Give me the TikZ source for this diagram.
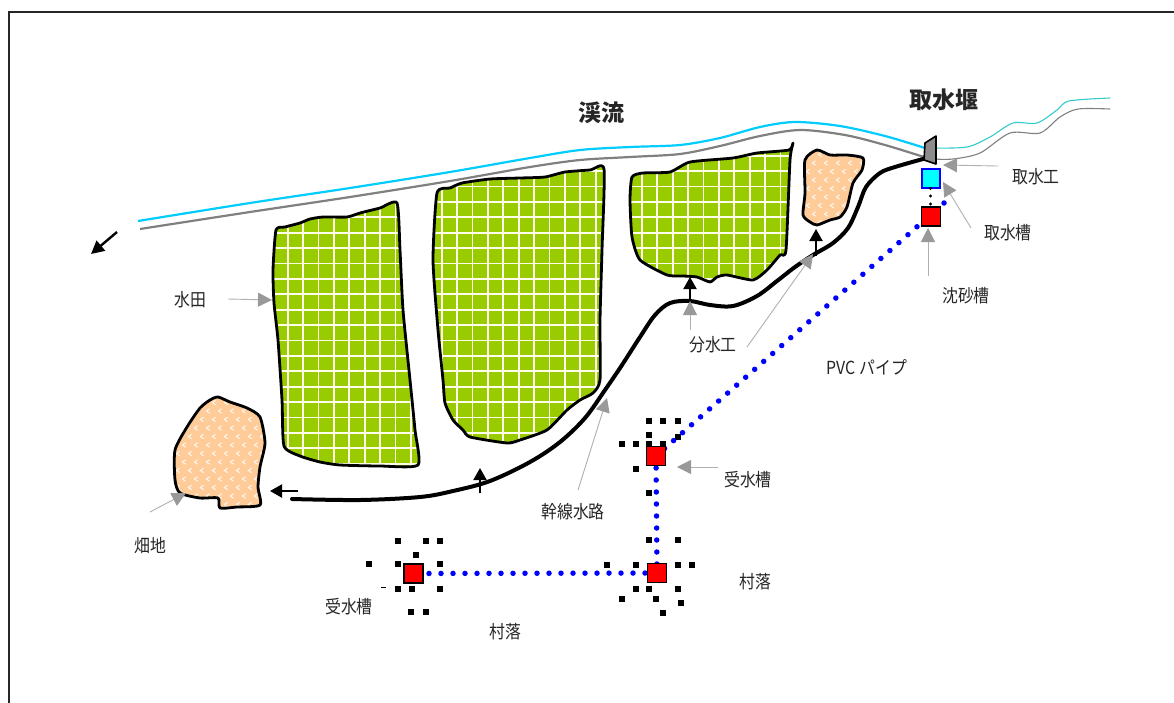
\documentclass[tikz,border=0pt]{standalone}
\usepackage{fontspec}
\newfontfamily\jp{Noto Sans CJK JP}
\usetikzlibrary{arrows.meta}

\definecolor{paddygreen}{HTML}{99CC00}
\definecolor{fieldpeach}{HTML}{FFCC99}
\definecolor{streamcyan}{HTML}{00CCFF}
\definecolor{upcyan}{HTML}{33CCCC}
\definecolor{bankgray}{HTML}{808080}
\definecolor{ptrgray}{HTML}{999999}
\definecolor{ptrline}{HTML}{B0B0B0}
\definecolor{weirgray}{HTML}{8C8C8C}
\definecolor{pipeblue}{HTML}{0000FF}
\definecolor{boxcyan}{HTML}{00FFFF}
\definecolor{tankred}{HTML}{FF0000}

\newcommand{\nar}[1]{\scalebox{0.88}[1]{#1}}

% outlines of the plots
\def\paddyA{plot[smooth cycle,tension=0.35] coordinates{(276,230) (285,227) (300,223) (310,219) (323,217) (347,217) (360,213) (380,208) (397,203) (400,250) (403,310) (410,380) (415,430) (418,465) (380,466) (340,465) (320,462) (300,456) (284,446) (282,400) (278,340) (274,303) (273,270)}}
\def\paddyB{plot[smooth cycle,tension=0.35] coordinates{(437,193) (450,188) (462,183) (490,179) (520,178) (545,177) (565,172) (590,170) (604,169) (602,250) (600,320) (600,380) (593,393) (580,400) (567,410) (547,430) (520,440) (507,443) (470,437) (463,430) (453,420) (445,403) (443,380) (438,330) (433,260)}}
\def\paddyC{plot[smooth cycle,tension=0.35] coordinates{(632,177) (643,173) (670,172) (690,162) (733,158) (757,153) (789,150) (793,143) (790,160) (786,250) (780,255) (767,270) (753,280) (727,275) (717,277) (710,282) (697,277) (683,276) (667,275) (640,260) (632,237) (630,200)}}
\def\fieldA{plot[smooth cycle,tension=0.4] coordinates{(817,150) (830,155) (847,155) (863,158) (862,170) (853,183) (847,207) (840,217) (830,220) (817,225) (810,222) (803,215) (805,193) (805,160)}}
\def\fieldB{plot[smooth cycle,tension=0.4] coordinates{(210,400) (218,397) (230,402) (247,408) (260,417) (265,443) (260,467) (258,487) (260,505) (237,507) (220,508) (218,498) (200,498) (180,493) (175,480) (175,450) (187,427) (200,408)}}

\tikzset{
  outline/.style={draw=black,line width=2.8pt,line join=round},
  gridline/.style={draw=white!92!yellow,line width=1.9pt},
  chev/.style={draw=white,line width=1pt,opacity=0.85},
  canal/.style={draw=black,line width=4pt,line cap=round},
  branch/.style={draw=black,line width=2pt,-{Triangle[length=12pt,width=13pt]}},
  pointer/.style={draw=ptrline,line width=0.9pt,-{Triangle[length=14pt,width=14pt,color=ptrgray,fill=ptrgray]}},
  pipe/.style={draw=pipeblue,line width=5.5pt,line cap=round,dash pattern=on 0pt off 12pt},
  tank/.style={draw=black,line width=1.8pt,fill=tankred,minimum size=19pt,inner sep=0pt},
  intake/.style={draw=blue,line width=1.8pt,fill=boxcyan,minimum size=18.5pt,inner sep=0pt},
  house/.style={fill=black},
  lab/.style={font=\jp\fontsize{18}{20}\selectfont,inner sep=0pt,text=black!85},
  title/.style={font=\jp\bfseries\fontsize{23}{25}\selectfont,inner sep=0pt,text=black!85},
}

\begin{document}
\begin{tikzpicture}[x=1pt,y=-1pt]
\useasboundingbox (0,0) rectangle (1174,702);
\clip (0,0) rectangle (1174,702);
\fill[white] (0,0) rectangle (1174,702);

% frame
\draw[line width=2.2pt,black!85] (9,730) -- (9,12) -- (1200,12);

% stream banks
\draw[streamcyan,line width=2.2pt] plot[smooth,tension=0.5] coordinates{(138,221) (250,203) (350,188) (450,172) (530,158) (580,150) (630,147) (680,145) (720,138) (760,127) (795,122) (840,126) (885,136) (925,148)};
\draw[bankgray,line width=2.2pt] plot[smooth,tension=0.5] coordinates{(140,229) (250,212) (350,197) (450,181) (530,167) (580,160) (630,157) (680,154) (720,146) (760,136) (800,130) (845,135) (885,145) (924,157)};
\draw[upcyan,line width=1.1pt] plot[smooth,tension=0.5] coordinates{(934,148) (967,147) (990,137) (1013,123) (1037,123) (1057,110) (1069,101) (1110,98)};
\draw[bankgray,line width=1.1pt] plot[smooth,tension=0.5] coordinates{(934,159) (953,159) (980,153) (1010,133) (1040,133) (1060,117) (1078,109) (1110,109)};

% flow direction
\coordinate (flowA) at (117,232);
\coordinate (flowB) at (91,254);
\draw[line width=2.4pt,-{Triangle[length=13pt,width=13pt]}] (flowA) -- (flowB);

% paddy fields
\foreach \shape in {\paddyA,\paddyB,\paddyC}{
  \begin{scope}
    \clip \shape;
    \fill[paddygreen] (240,130) rectangle (810,490);
    \foreach \k in {0,...,37} \draw[gridline] ({241.5+15.4*\k},130) -- ({241.5+15.4*\k},490);
    \foreach \k in {0,...,23} \draw[gridline] (240,{140.3+15.4*\k}) -- (810,{140.3+15.4*\k});
  \end{scope}
  \draw[outline] \shape;
}

% upland fields, staggered chevron texture
\begin{scope}
  \clip \fieldA;
  \fill[fieldpeach] (795,140) rectangle (875,235);
  \foreach \cy [count=\r] in {146,154.5,...,232}
    \foreach \cx in {796,808,...,880} {
      \pgfmathsetmacro\sx{\cx+6*mod(\r,2)}
      \draw[chev] ({\sx+1.6},{\cy-2.2}) -- ({\sx-1.6},\cy) -- ({\sx+1.6},{\cy+2.2});
    }
\end{scope}
\draw[outline] \fieldA;
\begin{scope}
  \clip \fieldB;
  \fill[fieldpeach] (168,390) rectangle (272,515);
  \foreach \cy [count=\r] in {394,402.5,...,514}
    \foreach \cx in {166,178,...,278} {
      \pgfmathsetmacro\sx{\cx+6*mod(\r,2)}
      \draw[chev] ({\sx+1.6},{\cy-2.2}) -- ({\sx-1.6},\cy) -- ({\sx+1.6},{\cy+2.2});
    }
\end{scope}
\draw[outline] \fieldB;

% main canal
\draw[canal] plot[smooth,tension=0.55] coordinates{(923,159) (895,167) (880,173) (866,187) (858,207) (848,228) (833,243) (813,255) (795,267) (777,281) (757,296) (733,306) (710,305) (690,301) (670,303) (655,315) (640,337) (622,365) (605,390) (585,418) (560,442) (530,462) (490,481) (453,491) (420,497) (360,500) (292,499)};

% branch outlets
\coordinate (bo1) at (690,301); \coordinate (bi1) at (690,277);
\coordinate (bo2) at (816,256); \coordinate (bi2) at (816,229);
\coordinate (bo3) at (480,493); \coordinate (bi3) at (480,468);
\coordinate (bo4) at (298,491); \coordinate (bi4) at (270,491);
\draw[branch] (bo1) -- (bi1);
\draw[branch] (bo2) -- (bi2);
\draw[branch] (bo3) -- (bi3);
\draw[branch] (bo4) -- (bi4);

% weir
\draw[fill=weirgray,line width=1.6pt,line join=round] (925,143) -- (936,136) -- (936,164) -- (924,160) -- cycle;

% village houses
\foreach \p in {(649,421),(663,421),(678,421),(649,435),(678,437),(622,444),(636,444),(649,444),(663,444),(636,469),(649,493),(649,540),(678,540),
                (607,565),(636,565),(678,565),(692,565),(636,589),(649,589),(678,589),(622,599),(656,599),(681,603),(663,613),
                (398,541),(426,541),(440,541),(416,555),(369,564),(398,564),(440,564),(398,589),(412,589),(440,589),(411,612),(426,612)}
  \fill[house] \p ++(-2.75,-2.75) rectangle ++(5.5,5.5);
\draw[black,line width=1pt] (381,587) -- (386,587);

% PVC pipeline
\coordinate (pipeStart) at (944,203);
\coordinate (cT1) at (656,456);
\coordinate (cT2) at (657,573);
\coordinate (cT3) at (413.5,573.5);
\draw[pipe] (pipeStart) -- (cT1);
\draw[pipe] (cT1) -- (cT2);
\draw[pipe] (cT2) -- (cT3);

% intake chain
\node[intake] (intakeBox) at (931,178.5) {};
\node[tank] (settle) at (931,216.5) {};
\foreach \yy in {188.5,196,204} \fill (930.5,\yy) circle (1.6);
\node[tank] (tankA) at (cT1) {};
\node[tank] (tankB) at (cT2) {};
\node[tank] (tankC) at (cT3) {};

% labels
\node[title] (lStream) at (601,113) {渓流};
\node[title] (lWeir) at (944,100) {取水堰};
\node[lab] (lIntake) at (1036,177) {\nar{取水工}};
\node[lab] (lIntakeTank) at (1008,233) {\nar{取水槽}};
\node[lab] (lSettle) at (966,296) {\nar{沈砂槽}};
\node[lab] (lPaddy) at (190,300) {\nar{水田}};
\node[lab] (lField) at (150,546) {\nar{畑地}};
\node[lab] (lDiv) at (713,345) {\nar{分水工}};
\node[lab] (lPipe) at (867,367) {\nar{PVC パイプ}};
\node[lab] (lCanal) at (573,512) {\nar{幹線水路}};
\node[lab] (lRecvA) at (748,480) {\nar{受水槽}};
\node[lab] (lVilA) at (755,582) {\nar{村落}};
\node[lab] (lRecvB) at (349,607) {\nar{受水槽}};
\node[lab] (lVilB) at (505,632) {\nar{村落}};

% pointers
\coordinate (pIntake) at (998,166);
\coordinate (pIntakeTip) at (943,165);
\coordinate (pIntakeTank) at (971,228);
\coordinate (pIntakeTankTip) at (943,182);
\coordinate (pSettle) at (928,276);
\coordinate (pSettleTip) at (928,228);
\coordinate (pPaddy) at (228,299);
\coordinate (pPaddyTip) at (272,300);
\coordinate (pField) at (150,512);
\coordinate (pFieldTip) at (186,493);
\coordinate (pDivA) at (690,330);
\coordinate (pDivATip) at (690,301);
\coordinate (pDivB) at (747,347);
\coordinate (pDivBTip) at (813,254);
\coordinate (pCanal) at (578,490);
\coordinate (pCanalTip) at (607,398);
\coordinate (pRecv) at (718,467);
\coordinate (pRecvTip) at (677,467);
\draw[pointer] (pIntake) -- (pIntakeTip);
\draw[pointer] (pIntakeTank) -- (pIntakeTankTip);
\draw[pointer] (pSettle) -- (pSettleTip);
\draw[pointer] (pPaddy) -- (pPaddyTip);
\draw[pointer] (pField) -- (pFieldTip);
\draw[pointer] (pDivA) -- (pDivATip);
\draw[pointer] (pDivB) -- (pDivBTip);
\draw[pointer] (pCanal) -- (pCanalTip);
\draw[pointer] (pRecv) -- (pRecvTip);
\end{tikzpicture}
\end{document}
